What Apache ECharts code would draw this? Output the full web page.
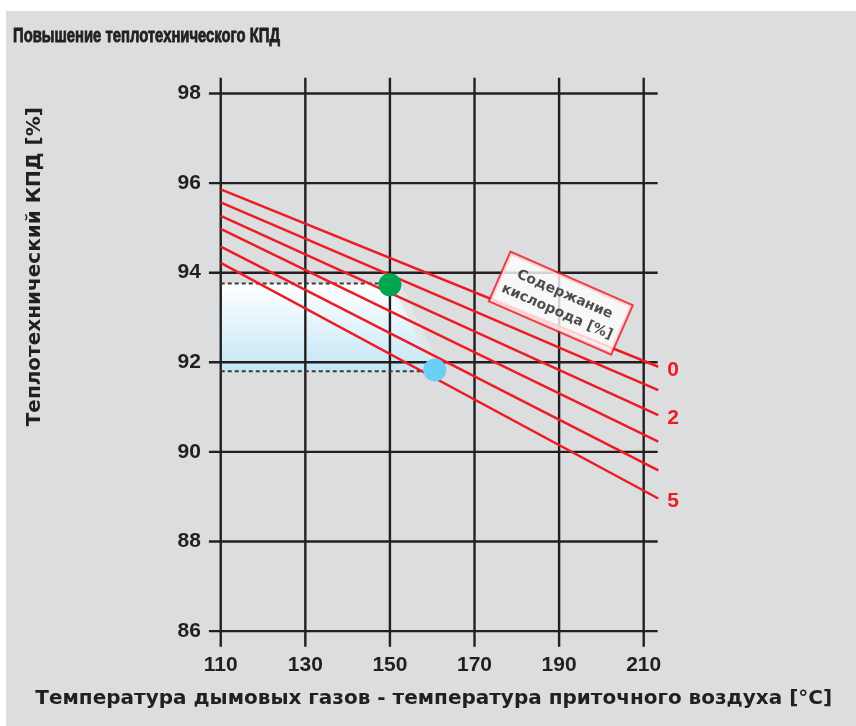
<!DOCTYPE html>
<html><head><meta charset="utf-8">
<script src="https://cdn.jsdelivr.net/npm/echarts@6/dist/echarts.min.js"></script>
<style>html,body{margin:0;padding:0;background:#fff}#c{width:856px;height:726px}</style>
</head><body><div id="c"></div>
<script>
// ---- data ----
const xTicks = [110, 130, 150, 170, 190, 210];
const yTicks = [86, 88, 90, 92, 94, 96, 98];
const oxygenLevels = ['0', '1', '2', '3', '4', '5'];
const oxygenLabelShown = [true, false, true, false, false, true];
const lineStartX = 110;
const lineEndX = 213.45;
const lineStartY = [95.86, 95.57, 95.27, 94.98, 94.58, 94.22];
const lineEndY = [91.90, 91.38, 90.82, 90.23, 89.59, 88.96];
const greenPoint = [150, 93.73];
const bluePoint = [160.6, 91.83];
const gainTop = 93.76;
const gainBottom = 91.80;
const gainEdgeTopX = 150.5;
const gainEdgeBottomX = 160.4;
const shadowEdge = [[150.5, 93.76], [152.5, 93.76], [161.8, 91.90], [160.4, 91.80]];
const legendAnchor = [190.4, 93.32];
const legendText = 'Содержание\nкислорода [%]';
const titleText = 'Повышение теплотехнического КПД';
const xName = 'Температура дымовых газов - температура приточного воздуха [°C]';
const yName = 'Теплотехнический КПД [%]';

// ---- layout ----
const xMin = 107.2, xMax = 213.5, yMin = 85.65, yMax = 98.35;
const gridXEnd = 213.3;
const RED = '#ed1c24', DARK = '#231f20', BG = '#dcdddf';
const FONT = "'Liberation Sans', Arial, Helvetica, sans-serif";
const WIDE = "'DejaVu Sans', 'Liberation Sans', sans-serif";

// condensed title: measure and squeeze to reference width
const mctx = document.createElement('canvas').getContext('2d');
mctx.font = "bold 21px 'Liberation Sans', Arial, sans-serif";
const titleScale = 267 / mctx.measureText(titleText).width;

const series = [];

// shaded gain band
series.push({
  type: 'custom', z: 1, silent: true,
  data: [[lineStartX, gainTop]],
  renderItem: function (params, api) {
    const pts = [[lineStartX, gainTop], [gainEdgeTopX, gainTop], [gainEdgeBottomX, gainBottom], [lineStartX, gainBottom]];
    return {
      type: 'polygon',
      shape: { points: pts.map(p => api.coord(p)) },
      style: { fill: new echarts.graphic.LinearGradient(0, 0, 0, 1, [
        { offset: 0, color: '#ffffff' }, { offset: 1, color: '#c4e6f6' }]) }
    };
  }
});
// light shadow wedge
series.push({
  type: 'custom', z: 1, silent: true,
  data: [[shadowEdge[0][0], shadowEdge[0][1]]],
  renderItem: function (params, api) {
    return { type: 'polygon', shape: { points: shadowEdge.map(p => api.coord(p)) }, style: { fill: '#e5e6e8' } };
  }
});

// grid lines
xTicks.forEach(x => series.push({
  type: 'line', z: 2, silent: true, symbol: 'none', clip: false,
  data: [[x, yMin], [x, yMax]], lineStyle: { color: DARK, width: 2.4 }
}));
yTicks.forEach(y => series.push({
  type: 'line', z: 2, silent: true, symbol: 'none', clip: false,
  data: [[xMin, y], [gridXEnd, y]], lineStyle: { color: DARK, width: 2.4 }
}));

// dashed reference lines
series.push({
  type: 'line', z: 3, symbol: 'none', silent: true,
  data: [[lineStartX, gainTop], [greenPoint[0], gainTop]],
  lineStyle: { color: '#3a3a3a', width: 2, type: [4, 3] }
});
series.push({
  type: 'line', z: 3, symbol: 'none', silent: true,
  data: [[lineStartX, gainBottom], [bluePoint[0], gainBottom]],
  lineStyle: { color: '#3a3a3a', width: 2, type: [4, 3] }
});

// oxygen content lines
oxygenLevels.forEach((lvl, i) => series.push({
  type: 'line', z: 4, symbol: 'none', silent: true, clip: false, name: lvl,
  data: [[lineStartX, lineStartY[i]], [lineEndX, lineEndY[i]]],
  lineStyle: { color: RED, width: 2.5 },
  endLabel: {
    show: oxygenLabelShown[i], formatter: lvl, color: RED, fontSize: 21,
    fontWeight: 'bold', fontFamily: FONT, distance: 9, offset: [0, 3]
  }
}));

// points
series.push({
  type: 'scatter', z: 6, symbolSize: 23, silent: true,
  data: [greenPoint], itemStyle: { color: '#00a551', opacity: 1 }
});
series.push({
  type: 'scatter', z: 6, symbolSize: 23, silent: true,
  data: [bluePoint], itemStyle: { color: '#6ccff6', opacity: 1 }
});

// legend box
series.push({
  type: 'scatter', z: 8, symbolSize: 1, silent: true, clip: false,
  data: [legendAnchor], itemStyle: { color: 'rgba(0,0,0,0)' },
  label: {
    show: true, position: 'inside', formatter: legendText, rotate: -23.6,
    backgroundColor: '#ffffff', borderColor: RED, borderWidth: 2,
    padding: [7, 6], color: DARK, fontSize: 14, fontWeight: 'bold',
    fontFamily: WIDE, lineHeight: 19, align: 'center', verticalAlign: 'middle'
  }
});

const chart = echarts.init(document.getElementById('c'), null, { renderer: 'canvas' });
chart.setOption({
  animation: false,
  backgroundColor: '#ffffff',
  graphic: [
    { type: 'rect', z: -10, silent: true, shape: { x: 6, y: 11, width: 850, height: 715 }, style: { fill: BG } },
    { type: 'text', z: 10, silent: true, x: 13, y: 26, scaleX: titleScale,
      style: { text: titleText, fontSize: 21, fontWeight: 'bold', fontFamily: FONT,
               fill: DARK, stroke: DARK, lineWidth: 0.9, verticalAlign: 'top', align: 'left' } },
    { type: 'text', z: 10, silent: true, x: 35, y: 266.7, rotation: Math.PI / 2,
      style: { text: yName, fontSize: 20, fontWeight: 'bold', fontFamily: WIDE,
               fill: DARK, align: 'center', verticalAlign: 'middle' } }
  ],
  grid: { left: 208.9, top: 77.8, right: 197.5, bottom: 79.2, containLabel: false },
  xAxis: {
    type: 'value', min: xMin, max: xMax,
    axisLine: { show: false }, axisTick: { show: false }, splitLine: { show: false },
    axisLabel: { customValues: xTicks, color: DARK, fontSize: 21, fontWeight: 'bold', fontFamily: FONT, margin: 8 },
    name: xName, nameLocation: 'middle', nameGap: 42,
    nameTextStyle: { color: DARK, fontSize: 20, fontWeight: 'bold', fontFamily: WIDE }
  },
  yAxis: {
    type: 'value', min: yMin, max: yMax,
    axisLine: { show: false }, axisTick: { show: false }, splitLine: { show: false },
    axisLabel: { customValues: yTicks, color: DARK, fontSize: 21, fontWeight: 'bold', fontFamily: FONT, margin: 8 }
  },
  series: series
});
</script></body></html>
